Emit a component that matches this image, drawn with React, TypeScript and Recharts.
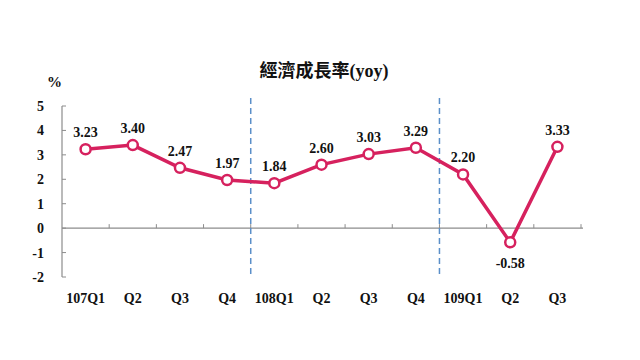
import React from "react";
import {
  LineChart,
  Line,
  XAxis,
  YAxis,
  ReferenceLine,
  LabelList,
} from "recharts";

// quarter keys are unique, shown labels repeat (Q2, Q3...)
const quarters = [
  "107Q1", "107Q2", "107Q3", "107Q4",
  "108Q1", "108Q2", "108Q3", "108Q4",
  "109Q1", "109Q2", "109Q3",
];
const quarterLabels = [
  "107Q1", "Q2", "Q3", "Q4",
  "108Q1", "Q2", "Q3", "Q4",
  "109Q1", "Q2", "Q3",
];
const growth = [3.23, 3.4, 2.47, 1.97, 1.84, 2.6, 3.03, 3.29, 2.2, -0.58, 3.33];
const yTicks = [-2, -1, 0, 1, 2, 3, 4, 5];
const yearStarts = ["108Q1", "109Q1"];

const data = quarters.map((q, i) => ({ q, label: quarterLabels[i], value: growth[i] }));

const LINE = "#d6215e";
const AXIS = "#8c8c8c";
const DASH = "#5b8fc9";
const FONT = '"Liberation Serif", "Times New Roman", serif';

function YTick(props: any) {
  const { x, y, payload } = props;
  return (
    <g>
      <line x1={x + 18} x2={x + 22} y1={y} y2={y} stroke={AXIS} strokeWidth={1} />
      <text
        x={x}
        y={y}
        dy={5}
        textAnchor="end"
        fontFamily={FONT}
        fontWeight="bold"
        fontSize={14}
        fill="#111"
      >
        {payload.value}
      </text>
    </g>
  );
}

function XTick(props: any) {
  const { x, y, payload, index } = props;
  return (
    <text
      x={x}
      y={y + 26}
      textAnchor="middle"
      fontFamily={FONT}
      fontWeight="bold"
      fontSize={14}
      fill="#111"
    >
      {quarterLabels[index] ?? payload.value}
    </text>
  );
}

// zero line with small upward ticks at each quarter boundary
function ZeroLine(props: any) {
  const { x1, x2, y1 } = props;
  const bw = (x2 - x1) / quarters.length;
  return (
    <g>
      <line x1={x1} x2={x2 + 2} y1={y1} y2={y1} stroke={AXIS} strokeWidth={1.2} />
      {quarters.map((_, i) => (
        <line
          key={i}
          x1={x1 + bw * (i + 1)}
          x2={x1 + bw * (i + 1)}
          y1={y1}
          y2={y1 - 4}
          stroke={AXIS}
          strokeWidth={1}
        />
      ))}
    </g>
  );
}

function YearDash(props: any) {
  const { x1, y1, y2 } = props;
  const top = Math.min(y1, y2);
  const bottom = Math.max(y1, y2);
  return (
    <line
      x1={x1}
      x2={x1}
      y1={top - 8}
      y2={bottom + 1}
      stroke={DASH}
      strokeWidth={1.5}
      strokeDasharray="6 4"
    />
  );
}

function ValueLabel(props: any) {
  const { x, y, value } = props;
  const below = value < 0;
  return (
    <text
      x={x}
      y={below ? y + 26 : y - 12}
      textAnchor="middle"
      fontFamily={FONT}
      fontWeight="bold"
      fontSize={14}
      fill="#111"
    >
      {value.toFixed(2)}
    </text>
  );
}

export default function App() {
  return (
    <div
      style={{
        position: "absolute",
        left: 0,
        top: 0,
        width: 640,
        height: 360,
        background: "#fff",
      }}
    >
      <div
        style={{
          position: "absolute",
          left: 0,
          width: 640,
          top: 56,
          textAlign: "center",
          fontFamily: '"Liberation Serif", "Noto Sans CJK TC", serif',
          fontWeight: "bold",
          fontSize: 18,
          color: "#111",
          paddingLeft: 4,
        }}
      >
        經濟成長率(yoy)
      </div>
      <div
        style={{
          position: "absolute",
          left: 47,
          top: 74,
          fontFamily: FONT,
          fontWeight: "bold",
          fontSize: 15,
          color: "#111",
        }}
      >
        %
      </div>
      <LineChart
        width={640}
        height={360}
        data={data}
        margin={{ top: 106, right: 59, bottom: 53, left: 22 }}
      >
        <XAxis
          dataKey="q"
          scale="band"
          height={30}
          axisLine={false}
          tickLine={false}
          tickSize={0}
          tickMargin={0}
          interval={0}
          tick={<XTick />}
        />
        <YAxis
          width={40}
          domain={[-2, 5]}
          ticks={yTicks}
          interval={0}
          axisLine={{ stroke: AXIS, strokeWidth: 1.2 }}
          tickLine={false}
          tickSize={0}
          tickMargin={18}
          tick={<YTick />}
        />
        <ReferenceLine y={0} shape={<ZeroLine />} />
        {yearStarts.map((q) => (
          <ReferenceLine key={q} x={q} position="start" shape={<YearDash />} />
        ))}
        <Line
          type="linear"
          dataKey="value"
          stroke={LINE}
          strokeWidth={3.5}
          dot={{ r: 5, fill: "#fff", stroke: LINE, strokeWidth: 2.5 }}
          activeDot={false}
          isAnimationActive={false}
        >
          <LabelList dataKey="value" content={<ValueLabel />} />
        </Line>
      </LineChart>
    </div>
  );
}
